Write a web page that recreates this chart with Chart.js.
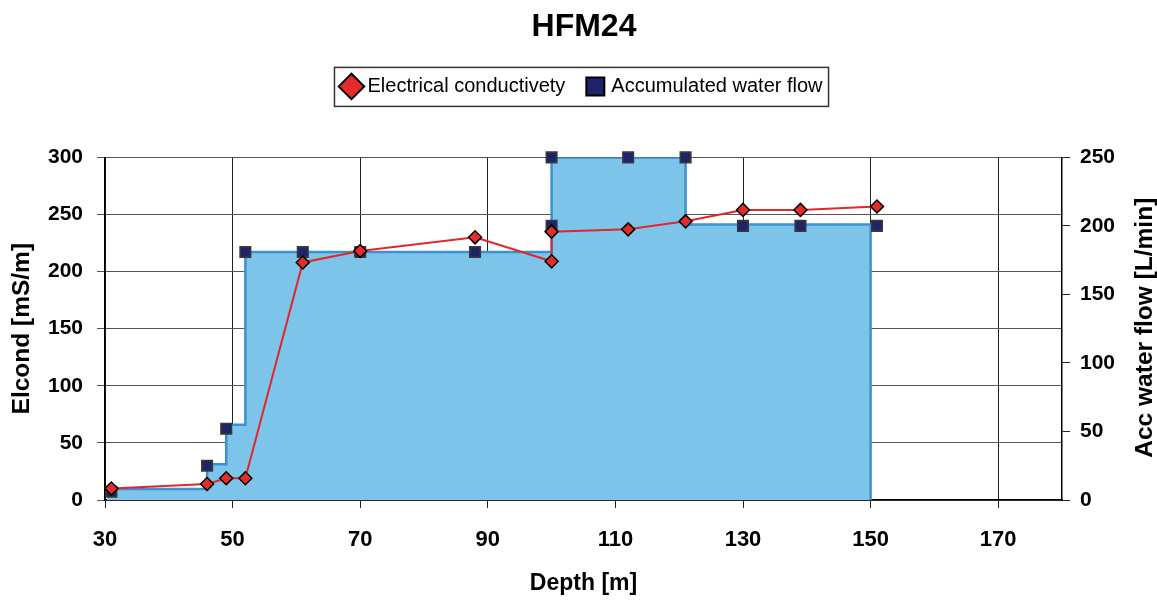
<!DOCTYPE html>
<html>
<head>
<meta charset="utf-8">
<title>HFM24</title>
<script src="https://cdn.jsdelivr.net/npm/chart.js@4.4.1/dist/chart.umd.min.js"></script>
<style>
  html, body { margin: 0; padding: 0; background: #fff; }
  #wrap { width: 1157px; height: 601px; }
</style>
</head>
<body>
<div id="wrap"><canvas id="hfmChart" width="1157" height="601"></canvas></div>
<script>
// values
const ecDepth = [31, 46, 49, 52, 61, 70, 88, 100, 100, 112, 121, 130, 139, 151];
const ecValue = [10, 14, 19, 19, 208, 218, 230, 209, 235, 237, 244, 254, 254, 257];

const flowDepth = [31, 46, 49, 52, 61, 70, 88, 100, 100, 112, 121, 130, 139, 151];
const flowValue = [6, 25, 52, 181, 181, 181, 181, 200, 250, 250, 250, 200, 200, 200];

// outline of the shaded flow profile
const stepDepth = [30.3, 46, 46, 49, 49, 52, 52, 100, 100, 121, 121, 150, 150];
const stepFlow = [8, 8, 26, 26, 55, 55, 181, 181, 250, 250, 201, 201, 0];

const depthTicks = [30, 50, 70, 90, 110, 130, 150, 170];
const rightTitle = 'Acc water flow [L/min]';

const toPoints = (xs, ys) => xs.map((x, i) => ({ x: x, y: ys[i] }));

Chart.defaults.font.family = '"Liberation Sans", Arial, Helvetica, sans-serif';
Chart.defaults.color = '#000';

// push the plot area down below the legend
const legendGap = {
  id: 'legendGap',
  beforeInit(chart) {
    const fit = chart.legend.fit;
    chart.legend.fit = function () {
      fit.call(this);
      this.height += 51;
    };
  }
};

// frame around the legend items + right axis title reading upwards
const extras = {
  id: 'extras',
  afterDraw(chart) {
    const c = chart.ctx;
    const boxes = chart.legend.legendHitBoxes;
    if (boxes && boxes.length) {
      const left = Math.min(...boxes.map(b => b.left));
      const right = Math.max(...boxes.map(b => b.left + b.width));
      const top = boxes[0].top;
      const h = boxes[0].height;
      c.save();
      c.strokeStyle = '#333';
      c.lineWidth = 1.5;
      c.strokeRect(left - 11, top - 9, right - left + 17, h + 19);
      c.restore();
    }
    const area = chart.chartArea;
    c.save();
    c.translate(1145, (area.top + area.bottom) / 2 - 1);
    c.rotate(-Math.PI / 2);
    c.font = 'bold 24.5px "Liberation Sans", Arial, sans-serif';
    c.fillStyle = '#000';
    c.textAlign = 'center';
    c.textBaseline = 'middle';
    c.fillText(rightTitle, 0, 0);
    c.restore();
  }
};

const ctx = document.getElementById('hfmChart').getContext('2d');
const chart = new Chart(ctx, {
  type: 'line',
  data: {
    datasets: [
      {
        label: 'Electrical conductivety',
        data: toPoints(ecDepth, ecValue),
        yAxisID: 'y',
        borderColor: '#E3262B',
        borderWidth: 2,
        pointStyle: 'rectRot',
        pointRadius: 6.5,
        pointBackgroundColor: '#E62B2B',
        pointBorderColor: '#000',
        pointBorderWidth: 1.5,
        clip: false,
        order: 1
      },
      {
        label: 'Accumulated water flow',
        data: toPoints(flowDepth, flowValue),
        yAxisID: 'y2',
        showLine: false,
        pointStyle: 'rect',
        pointRadius: 7.5,
        pointBackgroundColor: '#1F2468',
        pointBorderColor: '#3A3A3A',
        pointBorderWidth: 1.5,
        clip: false,
        order: 2
      },
      {
        label: 'profile',
        data: toPoints(stepDepth, stepFlow),
        yAxisID: 'y2',
        borderColor: '#3B92CE',
        borderWidth: 2.5,
        backgroundColor: '#7CC4EA',
        fill: 'origin',
        pointRadius: 0,
        order: 3
      }
    ]
  },
  options: {
    responsive: false,
    animation: false,
    events: [],
    layout: { padding: { left: 11, right: 0, top: 0, bottom: 4 } },
    plugins: {
      title: {
        display: true,
        text: 'HFM24',
        font: { size: 32, weight: 'bold' },
        color: '#000',
        padding: { top: 8, bottom: 6 }
      },
      legend: {
        display: true,
        labels: {
          usePointStyle: true,
          boxWidth: 12,
          boxHeight: 18,
          padding: 24,
          font: { size: 20 },
          color: '#000',
          generateLabels(c) {
            return Chart.defaults.plugins.legend.labels.generateLabels(c)
              .filter(l => l.datasetIndex < 2)
              .map(l => {
                const ds = c.data.datasets[l.datasetIndex];
                return Object.assign({}, l, {
                  fillStyle: ds.pointBackgroundColor,
                  strokeStyle: '#000',
                  lineWidth: 2,
                  pointStyle: ds.pointStyle
                });
              });
          }
        }
      },
      tooltip: { enabled: false }
    },
    scales: {
      x: {
        type: 'linear',
        min: 30,
        max: 180,
        afterBuildTicks(scale) {
          scale.ticks = depthTicks.map(v => ({ value: v }));
        },
        afterFit(scale) { scale.height = 97; },
        ticks: { font: { size: 22, weight: 'bold' }, color: '#000', padding: 19, maxRotation: 0 },
        grid: { color: '#222', lineWidth: 1, tickLength: 8 },
        border: { color: '#000', width: 1.5 },
        title: {
          display: true,
          text: 'Depth [m]',
          font: { size: 23, weight: 'bold' },
          color: '#000',
          padding: { top: 0, bottom: 0 }
        }
      },
      y: {
        position: 'left',
        min: 0,
        max: 300,
        ticks: { stepSize: 50, font: { size: 21, weight: 'bold' }, color: '#000', padding: 14 },
        afterFit(scale) { scale.width = 94; },
        grid: { color: '#555', lineWidth: 1, tickLength: 8 },
        border: { color: '#000', width: 1.5 },
        title: {
          display: true,
          text: 'Elcond [mS/m]',
          font: { size: 24.5, weight: 'bold' },
          color: '#000',
          padding: { top: -3, bottom: 0 }
        }
      },
      y2: {
        position: 'right',
        min: 0,
        max: 250,
        ticks: { stepSize: 50, font: { size: 21, weight: 'bold' }, color: '#000', padding: 10 },
        afterFit(scale) { scale.width = 95; },
        grid: { drawOnChartArea: false, color: '#222', tickLength: 8 },
        border: { color: '#000', width: 1.5 },
        title: { display: false }
      }
    }
  },
  plugins: [legendGap, extras]
});
</script>
</body>
</html>
